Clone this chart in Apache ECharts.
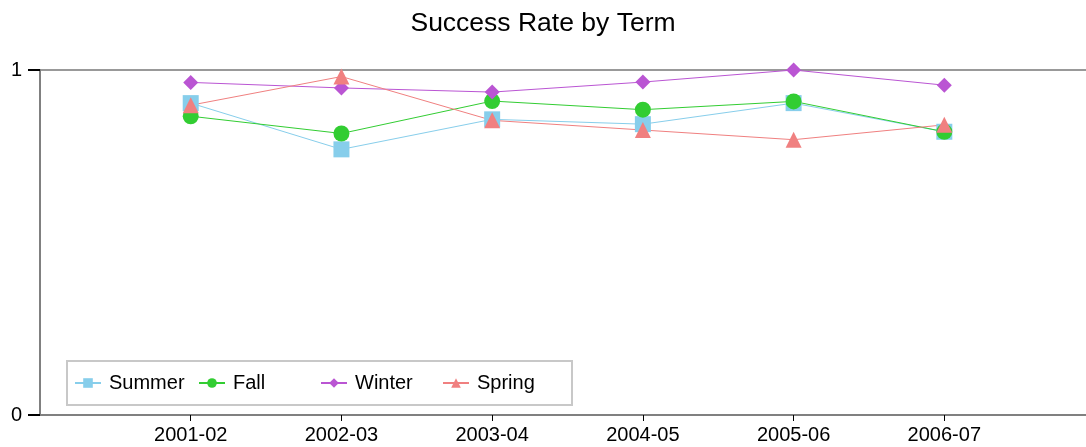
<!DOCTYPE html>
<html>
<head>
<meta charset="utf-8">
<script src="https://cdn.jsdelivr.net/npm/echarts@6/dist/echarts.min.js"></script>
<style>
  html, body { margin: 0; padding: 0; background: #fff; }
  #chart { width: 1086px; height: 447px; }
</style>
</head>
<body>
<div id="chart"></div>
<script>
// 学年（x 轴类目）
const terms = ['2001-02', '2002-03', '2003-04', '2004-05', '2005-06', '2006-07']

// 各学期成功率
const summer = [0.904, 0.770, 0.857, 0.843, 0.904, 0.821]
const fall = [0.866, 0.816, 0.910, 0.885, 0.909, 0.821]
const winter = [0.964, 0.948, 0.936, 0.965, 1.0, 0.956]
const spring = [0.898, 0.981, 0.854, 0.826, 0.798, 0.841]

const yTicks = [0, 1]

const font = 'Liberation Sans, Arial, sans-serif'

/* 把数组转成 [位置, 值]，位置从 1 开始 */
function toPoints(values) {
  return values.map((v, i) => [i + 1, v])
}

function makeSeries(name, values, color, symbol, size) {
  return {
    name: name,
    type: 'line',
    data: toPoints(values),
    symbol: symbol,
    symbolSize: size,
    lineStyle: { color: color, width: 1 },
    itemStyle: { color: color },
    animation: false
  }
}

function makeLegend(name, left) {
  return {
    data: [name],
    left: left,
    top: 368,
    itemWidth: 26,
    itemHeight: 12,
    itemGap: 0,
    textStyle: { fontFamily: font, fontSize: 20, color: '#000', padding: [0, 0, 0, 3] }
  }
}

const chart = echarts.init(document.getElementById('chart'))
chart.setOption({
  backgroundColor: '#fff',
  title: {
    text: 'Success Rate by Term',
    left: 'center',
    top: 5,
    textStyle: { fontFamily: font, fontSize: 26.5, fontWeight: 'normal', color: '#000' }
  },
  legend: [
    makeLegend('Summer', 69),
    makeLegend('Fall', 193),
    makeLegend('Winter', 315),
    makeLegend('Spring', 437)
  ],
  grid: { left: 40, right: 0, top: 70, bottom: 32 },
  xAxis: {
    type: 'value',
    min: 0,
    max: 6.94,
    interval: 1,
    splitLine: { show: false },
    axisLine: { lineStyle: { color: '#808080', width: 2 } },
    axisTick: {
      length: 6,
      lineStyle: { color: '#000', width: 1 },
      customValues: terms.map((t, i) => i + 1)
    },
    axisLabel: {
      customValues: terms.map((t, i) => i + 1),
      formatter: v => terms[v - 1] || '',
      fontFamily: font,
      fontSize: 20,
      color: '#000',
      margin: 10
    }
  },
  yAxis: {
    type: 'value',
    min: yTicks[0],
    max: yTicks[yTicks.length - 1],
    interval: 1,
    axisLine: { show: true, lineStyle: { color: '#808080', width: 2 } },
    axisTick: { show: true, length: 12, lineStyle: { color: '#000', width: 2 } },
    axisLabel: { fontFamily: font, fontSize: 20, color: '#000', margin: 18 },
    splitLine: { show: true, lineStyle: { color: '#999', width: 2 } }
  },
  graphic: [
    {
      type: 'rect',
      shape: { x: 67, y: 361, width: 505, height: 44 },
      style: { fill: 'none', stroke: '#c8c8c8', lineWidth: 2 },
      z: 1
    }
  ],
  series: [
    makeSeries('Summer', summer, '#87CEEB', 'rect', 16),
    makeSeries('Fall', fall, '#32CD32', 'circle', 16),
    makeSeries('Winter', winter, '#BA55D3', 'diamond', 15),
    makeSeries('Spring', spring, '#F08080', 'triangle', 16)
  ]
})
</script>
</body>
</html>
